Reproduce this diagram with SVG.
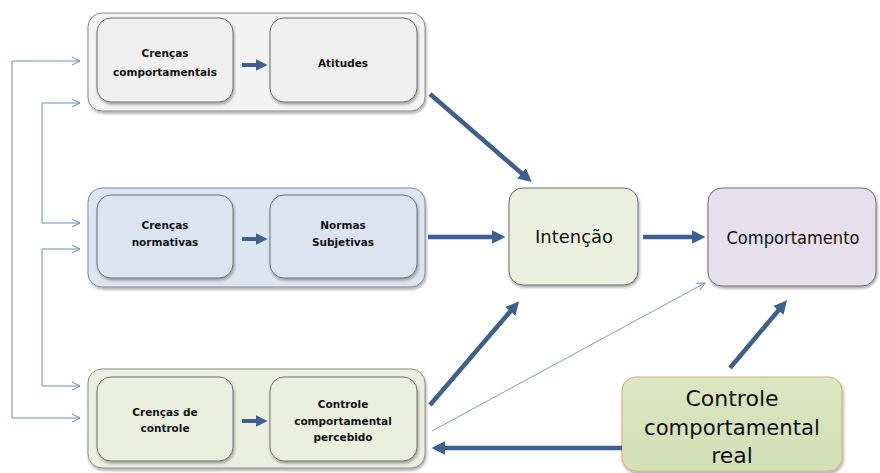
<svg xmlns="http://www.w3.org/2000/svg" width="880" height="473" viewBox="0 0 880 473">
  <style>
    .t { font-family: "Comic Sans MS", "DejaVu Sans", sans-serif; fill: #111; text-anchor: middle; }
    .s { font-size: 10.5px; font-weight: bold; }
    .m { font-size: 18px; }
    .l { font-size: 22px; }
    .outer { stroke: #8c8c8c; stroke-width: 1; }
    .inner { stroke: #6e6e6e; stroke-width: 1; }
    .thick { stroke: #3c618e; stroke-width: 4.5; fill: none; marker-end: url(#head); }
    .mini { stroke: #3c618e; stroke-width: 4; fill: none; marker-end: url(#head); }
    .fb { stroke: #6f8fae; stroke-width: 1; fill: none; }
    .fba { stroke: #6f8fae; stroke-width: 1; fill: none; marker-end: url(#open); }
    .thin { stroke: #7f9cbc; stroke-width: 1; fill: none; marker-end: url(#open); }
  </style>
  <defs>
    <filter id="shadow" x="-10%" y="-10%" width="125%" height="130%">
      <feGaussianBlur in="SourceAlpha" stdDeviation="1.5"/>
      <feOffset dx="1" dy="2" result="b"/>
      <feComponentTransfer><feFuncA type="linear" slope="0.35"/></feComponentTransfer>
      <feMerge><feMergeNode/><feMergeNode in="SourceGraphic"/></feMerge>
    </filter>
    <marker id="head" markerWidth="3" markerHeight="3" refX="1.6" refY="1.5" orient="auto" markerUnits="strokeWidth">
      <path d="M0,0 L3,1.5 L0,3 z" fill="#3c618e"/>
    </marker>
    <marker id="open" markerWidth="10" markerHeight="10" refX="9" refY="5" orient="auto" markerUnits="userSpaceOnUse">
      <path d="M1,1 L9,5 L1,9" fill="none" stroke="#6f8fae" stroke-width="1"/>
    </marker>
    <linearGradient id="realFill" x1="0" y1="0" x2="0" y2="1">
      <stop offset="0" stop-color="#dbe6c2"/>
      <stop offset="1" stop-color="#d4e0b6"/>
    </linearGradient>
  </defs>

  <!-- attitude block -->
  <g id="atitudes-grupo">
    <rect class="outer" x="88" y="13" width="337" height="98" rx="14" fill="#f3f3f3" filter="url(#shadow)"/>
    <g id="crencas-comportamentais">
      <rect class="inner" x="97" y="18" width="136" height="84" rx="14" fill="#efefef" filter="url(#shadow)"/>
      <text class="t s" x="165" y="57">Crenças</text>
      <text class="t s" x="165" y="76">comportamentais</text>
    </g>
    <g id="atitudes">
      <rect class="inner" x="270" y="18" width="147" height="84" rx="14" fill="#efefef" filter="url(#shadow)"/>
      <text class="t s" x="343" y="67">Atitudes</text>
    </g>
  </g>

  <!-- normative block -->
  <g id="normas-grupo">
    <rect class="outer" x="88" y="188" width="337" height="99" rx="14" fill="#dce6f2" stroke="#8a9ab0" filter="url(#shadow)"/>
    <g id="crencas-normativas">
      <rect class="inner" x="97" y="195" width="136" height="83" rx="14" fill="#dbe5f1" filter="url(#shadow)"/>
      <text class="t s" x="165" y="229">Crenças</text>
      <text class="t s" x="165" y="246">normativas</text>
    </g>
    <g id="normas-subjetivas">
      <rect class="inner" x="270" y="195" width="147" height="83" rx="14" fill="#dbe5f1" filter="url(#shadow)"/>
      <text class="t s" x="343" y="229">Normas</text>
      <text class="t s" x="343" y="246">Subjetivas</text>
    </g>
  </g>

  <!-- control block -->
  <g id="controle-grupo">
    <rect class="outer" x="88" y="369" width="337" height="99" rx="14" fill="#ebf0de" filter="url(#shadow)"/>
    <g id="crencas-controle">
      <rect class="inner" x="97" y="377" width="136" height="84" rx="14" fill="#ebf0de" filter="url(#shadow)"/>
      <text class="t s" x="165" y="416">Crenças  de</text>
      <text class="t s" x="165" y="432">controle</text>
    </g>
    <g id="controle-percebido">
      <rect class="inner" x="270" y="377" width="147" height="84" rx="14" fill="#ebf0de" filter="url(#shadow)"/>
      <text class="t s" x="343" y="408">Controle</text>
      <text class="t s" x="343" y="425">comportamental</text>
      <text class="t s" x="343" y="441">percebido</text>
    </g>
  </g>

  <g id="intencao">
    <rect class="inner" x="509" y="188" width="129" height="97" rx="14" fill="#ebf1de" filter="url(#shadow)"/>
    <text class="t m" x="574" y="243" textLength="78" lengthAdjust="spacingAndGlyphs">Intenção</text>
  </g>

  <g id="comportamento">
    <rect class="inner" x="708" y="188" width="168" height="98" rx="14" fill="#e5e0ec" stroke="#9a9a9a" filter="url(#shadow)"/>
    <text class="t m" x="793" y="244" textLength="133" lengthAdjust="spacingAndGlyphs">Comportamento</text>
  </g>

  <g id="controle-real">
    <rect x="622" y="377" width="220" height="94" rx="14" fill="url(#realFill)" stroke="#d8b67e" stroke-width="1.2" filter="url(#shadow)"/>
    <text class="t l" x="732" y="406">Controle</text>
    <text class="t l" x="732" y="435" textLength="176" lengthAdjust="spacingAndGlyphs">comportamental</text>
    <text class="t l" x="732" y="463">real</text>
  </g>

  <g id="conectores">
    <!-- inner block arrows -->
    <line class="mini" x1="242" y1="65" x2="262" y2="65"/>
    <line class="mini" x1="242" y1="239" x2="262" y2="239"/>
    <line class="mini" x1="242" y1="421" x2="262" y2="421"/>

    <!-- into Intenção -->
    <line class="thick" x1="430" y1="94" x2="527" y2="178"/>
    <line class="thick" x1="428" y1="237" x2="499" y2="237"/>
    <line class="thick" x1="430" y1="405" x2="515" y2="306"/>

    <!-- into Comportamento -->
    <line class="thick" x1="643" y1="237" x2="699" y2="237"/>
    <line class="thin" x1="432" y1="431" x2="705" y2="283"/>
    <line class="thick" x1="730" y1="368" x2="783" y2="305"/>

    <!-- real control back to perceived control -->
    <line class="thick" x1="622" y1="448" x2="438" y2="448"/>

    <!-- feedback lines on the left -->
    <polyline class="fb" points="12,61 12,418"/>
    <line class="fba" x1="12" y1="61" x2="80" y2="61"/>
    <line class="fba" x1="12" y1="418" x2="80" y2="418"/>
    <polyline class="fb" points="42,103 42,223"/>
    <line class="fba" x1="42" y1="103" x2="80" y2="103"/>
    <line class="fba" x1="42" y1="223" x2="80" y2="223"/>
    <polyline class="fb" points="42,249 42,386"/>
    <line class="fba" x1="42" y1="249" x2="80" y2="249"/>
    <line class="fba" x1="42" y1="386" x2="80" y2="386"/>
  </g>
</svg>
